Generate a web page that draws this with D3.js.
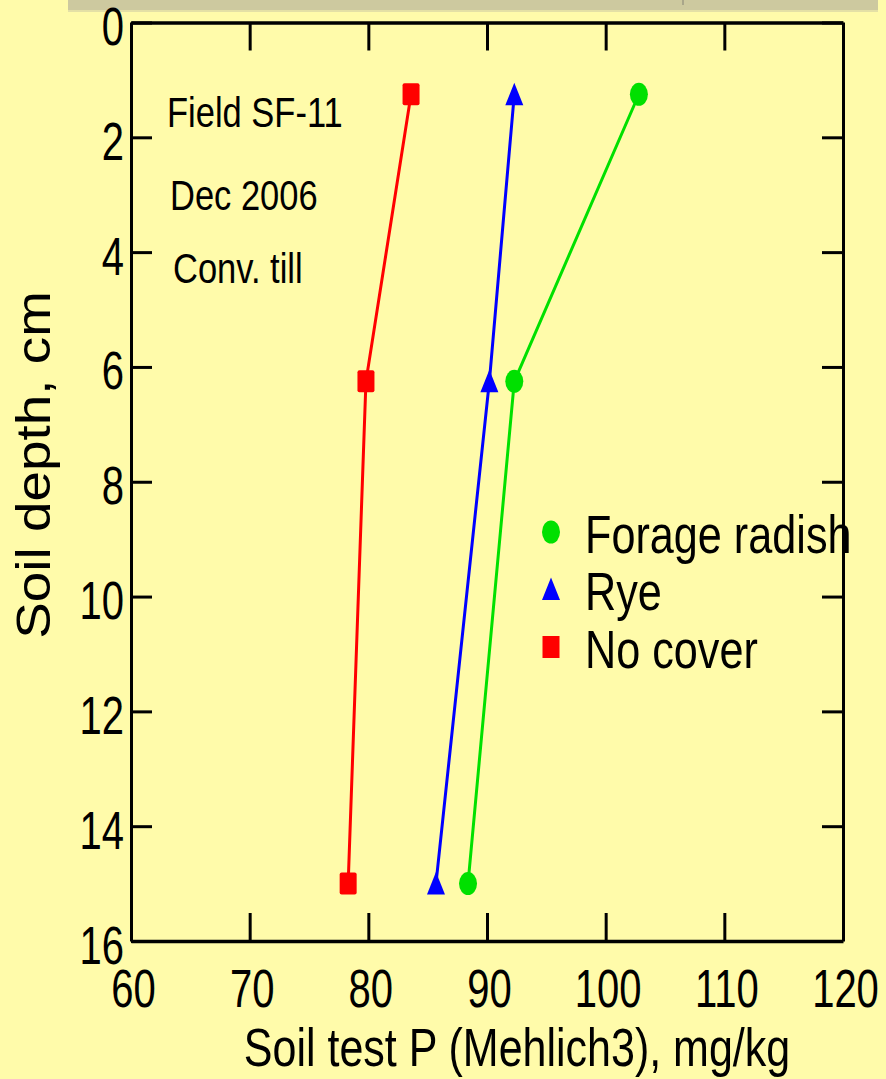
<!DOCTYPE html>
<html>
<head>
<meta charset="utf-8">
<script src="https://cdn.jsdelivr.net/npm/d3@7/dist/d3.min.js"></script>
<style>
  html, body { margin: 0; padding: 0; background: #fffbaa; }
  svg { display: block; }
  text { font-family: "Liberation Sans", Arial, sans-serif; fill: #000; }
</style>
</head>
<body>
<svg id="chart" width="886" height="1079"></svg>
<script>
// Soil test P profiles by cover crop treatment
const depths = [1.25, 6.25, 15];
const forageRadish = [102.8, 92.3, 88.4];
const rye = [92.3, 90.2, 85.7];
const noCover = [83.6, 79.8, 78.3];

const seriesNames = ["Forage radish", "Rye", "No cover"];
const seriesColors = ["#00e000", "#0000ff", "#ff0000"];
const seriesShapes = ["circle", "triangle", "square"];

const xTicks = [60, 70, 80, 90, 100, 110, 120];
const yTicks = [0, 2, 4, 6, 8, 10, 12, 14, 16];
const notes = ["Field SF-11", "Dec 2006", "Conv. till"];

const xTitle = "Soil test P (Mehlich3), mg/kg";
const yTitle = "Soil depth, cm";

const svg = d3.select("#chart");
const W = 886, H = 1079;

svg.append("rect").attr("width", W).attr("height", H).attr("fill", "#fffbaa");

// faint grey band along the top edge
svg.append("rect").attr("x", 68).attr("y", 0).attr("width", 810).attr("height", 10)
  .attr("fill", "#cdc99f");
svg.append("rect").attr("x", 68).attr("y", 10).attr("width", 810).attr("height", 2)
  .attr("fill", "#e4e0a6");
svg.append("rect").attr("x", 682).attr("y", 0).attr("width", 2).attr("height", 5)
  .attr("fill", "#a9a68a");

const x = d3.scaleLinear().domain([60, 120]).range([131, 843]);
const y = d3.scaleLinear().domain([0, 16]).range([22.5, 941]);

const axisStyle = g => {
  g.select(".domain").attr("stroke", "#000").attr("stroke-width", 3);
  g.selectAll(".tick line").attr("stroke", "#000").attr("stroke-width", 3);
};

// bottom axis: inward ticks, labels below
const gB = svg.append("g").attr("transform", `translate(0,${y(16)})`)
  .call(d3.axisBottom(x).tickValues(xTicks).tickSizeInner(-28).tickSizeOuter(0).tickFormat(d3.format("d")))
  .call(axisStyle);
gB.select(".domain").attr("stroke-width", 3.5);
gB.selectAll(".tick text")
  .attr("y", null).attr("dy", null)
  .attr("font-size", 40)
  .attr("text-anchor", "middle")
  .attr("transform", "translate(2,66) scale(1,1.35)");

// top axis: ticks only
const gT = svg.append("g").attr("transform", `translate(0,${y(0)})`)
  .call(d3.axisTop(x).tickValues(xTicks).tickSizeInner(-28).tickSizeOuter(0).tickFormat(""))
  .call(axisStyle);
gT.select(".domain").attr("stroke-width", 3.5);

// left axis: inward ticks, labels at left
const gL = svg.append("g").attr("transform", `translate(${x(60)},0)`)
  .call(d3.axisLeft(y).tickValues(yTicks).tickSizeInner(-21).tickSizeOuter(0).tickFormat(d3.format("d")))
  .call(axisStyle);
gL.selectAll(".tick text")
  .attr("x", null).attr("dy", null)
  .attr("font-size", 40)
  .attr("text-anchor", "end")
  .attr("transform", "translate(-7,22) scale(1,1.33)");

// right axis: ticks only
svg.append("g").attr("transform", `translate(${x(120)},0)`)
  .call(d3.axisRight(y).tickValues(yTicks).tickSizeInner(-21).tickSizeOuter(0).tickFormat(""))
  .call(axisStyle);

// axis titles
svg.append("text")
  .attr("text-anchor", "middle").attr("font-size", 43)
  .attr("transform", "translate(517,1066) scale(1,1.25)")
  .text(xTitle);

svg.append("text")
  .attr("text-anchor", "middle").attr("font-size", 49)
  .attr("transform", "translate(50,465) rotate(-90) scale(1.12,1)")
  .text(yTitle);

// notes in upper-left of plot
const notePos = [[167, 127], [170, 210], [173, 283]];
notes.forEach((t, i) => {
  svg.append("text")
    .attr("font-size", 34.5)
    .attr("transform", `translate(${notePos[i][0]},${notePos[i][1]}) scale(1,1.22)`)
    .text(t);
});

// marker drawing (slightly tall shapes)
function marker(g, shape, color, cx, cy, rounded) {
  if (shape === "circle") {
    g.append("ellipse").attr("cx", cx).attr("cy", cy).attr("rx", 9).attr("ry", 11.5).attr("fill", color);
  } else if (shape === "square") {
    g.append("rect").attr("x", cx - 8.5).attr("y", cy - 11).attr("width", 17).attr("height", 22)
      .attr("rx", rounded ? 2 : 0).attr("fill", color);
  } else {
    g.append("path")
      .attr("d", `M${cx},${cy - 11.5}L${cx + 9},${cy + 11}L${cx - 9},${cy + 11}Z`)
      .attr("fill", color);
  }
}

const seriesValues = [forageRadish, rye, noCover];
const line = d3.line().x(d => x(d[0])).y(d => y(d[1]));

seriesValues.forEach((vals, i) => {
  const pts = vals.map((v, j) => [v, depths[j]]);
  svg.append("path").datum(pts)
    .attr("d", line)
    .attr("fill", "none")
    .attr("stroke", seriesColors[i])
    .attr("stroke-width", 3);
});
seriesValues.forEach((vals, i) => {
  const g = svg.append("g");
  vals.forEach((v, j) => marker(g, seriesShapes[i], seriesColors[i], x(v), y(depths[j]), true));
});

// legend
const legendRows = [532, 589, 647];
seriesNames.forEach((name, i) => {
  const g = svg.append("g");
  marker(g, seriesShapes[i], seriesColors[i], 551, legendRows[i], false);
  g.append("text")
    .attr("font-size", 43.2)
    .attr("transform", `translate(585,${legendRows[i] + 21}) scale(1,1.24)`)
    .text(name);
});
</script>
</body>
</html>
